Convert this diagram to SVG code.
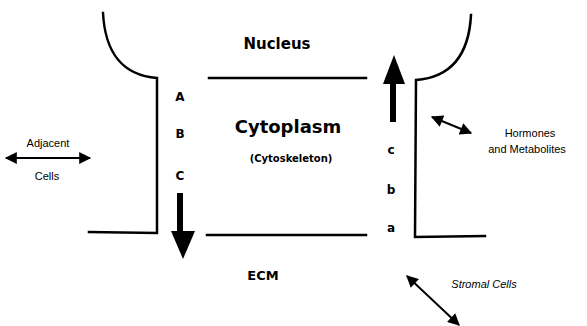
<svg xmlns="http://www.w3.org/2000/svg" width="587" height="326" viewBox="0 0 587 326">
<style>
.ln{fill:none;stroke:#000;stroke-width:2.5;stroke-linecap:square}
.thin{fill:none;stroke:#000;stroke-width:2}
.big{font-family:"DejaVu Sans",sans-serif;font-weight:bold;fill:#000;text-anchor:middle}
.let{font-family:"DejaVu Sans",sans-serif;font-weight:bold;font-size:12px;fill:#000;text-anchor:middle}
.sm{font-family:"Liberation Sans",Arial,sans-serif;font-size:11px;fill:#000;text-anchor:middle}
</style>
<defs>
<marker id="ah" viewBox="0 0 10 10" refX="9" refY="5" markerWidth="6.5" markerHeight="6" orient="auto-start-reverse" markerUnits="strokeWidth">
<path d="M0,0 L10,5 L0,10 z" fill="#000"/>
</marker>
</defs>
<g id="cell-outline">
<path class="ln" d="M103,13 Q106,74 157,78 L157,233 L89,232"/>
<path class="ln" d="M471,15 Q468,76 416,80 L415,237 L485,236"/>
<path class="ln" d="M209,78 L366,78"/>
<path class="ln" d="M207,235 L366,235"/>
</g>
<g id="nucleus"><text class="big" x="277" y="49" font-size="15">Nucleus</text></g>
<g id="cytoplasm">
<text class="big" x="288" y="133" font-size="18">Cytoplasm</text>
<text class="big" x="291" y="162" font-size="10">(Cytoskeleton)</text>
</g>
<g id="ecm"><text class="big" x="263" y="280" font-size="13">ECM</text></g>
<g id="letters">
<text class="let" x="180" y="101">A</text>
<text class="let" x="180" y="138">B</text>
<text class="let" x="180" y="180">C</text>
<text class="let" x="391" y="154">c</text>
<text class="let" x="391" y="194">b</text>
<text class="let" x="391" y="232">a</text>
</g>
<g id="adjacent-cells">
<text class="sm" x="48" y="147" font-size="10">Adjacent</text>
<text class="sm" x="47" y="180" font-size="10">Cells</text>
</g>
<g id="hormones">
<text class="sm" x="530" y="137">Hormones</text>
<text class="sm" x="527" y="153">and Metabolites</text>
</g>
<g id="stromal-cells"><text class="sm" x="484" y="288" font-style="italic">Stromal Cells</text></g>
<g id="connectors">
<path d="M180,193 L180,233" stroke="#000" stroke-width="6" fill="none"/>
<path d="M171,231 L195,231 L183,259 z" fill="#000"/>
<path d="M393,122 L393,82" stroke="#000" stroke-width="6" fill="none"/>
<path d="M383,84 L405,84 L394,55 z" fill="#000"/>
<line class="thin" x1="6" y1="158" x2="90" y2="158" marker-start="url(#ah)" marker-end="url(#ah)"/>
<line class="thin" x1="432" y1="117" x2="471" y2="133" marker-start="url(#ah)" marker-end="url(#ah)"/>
<line class="thin" x1="407" y1="276" x2="459" y2="325" marker-start="url(#ah)" marker-end="url(#ah)"/>
</g>
</svg>
